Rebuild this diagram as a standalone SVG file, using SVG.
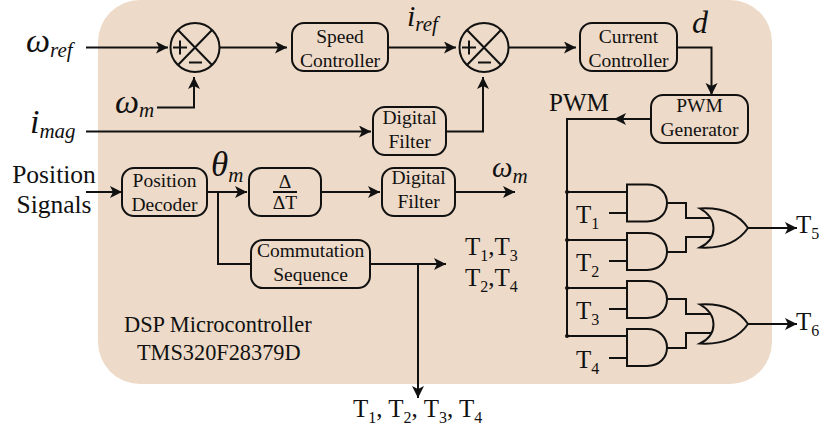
<svg xmlns="http://www.w3.org/2000/svg" width="824" height="431" viewBox="0 0 824 431">
<style>
text{font-family:"Liberation Serif","Times New Roman",serif;fill:#111}
.l{fill:none;stroke:#111;stroke-width:2}
.b{fill:none;stroke:#111;stroke-width:2}
.t{font-size:19.500px;text-anchor:middle}
.g{font-size:25px}
.i{font-style:italic}
.s{font-size:16px}
</style>
<defs>
<marker id="a" markerUnits="userSpaceOnUse" markerWidth="14" markerHeight="14" refX="12" refY="6" orient="auto"><path d="M0 0L12 6L0 12L3 6Z" fill="#111"/></marker>
<g id="sum"><circle r="24.500" class="b"/><path class="b" d="M-17 -17.500L17 17.500M-17 17.500L17 -17.500M-22 0H-8M-15 -7V7M-6 15H7"/></g>
<path id="and" class="b" d="M0 0H20C33 0 40 9 40 18.500C40 28 33 37 20 37H0Z"/>
<path id="or" class="b" d="M0 0C18 -1 36 2 48 19.500C36 37 18 40 0 39C18 30 18 10 0 0Z"/>
</defs>
<rect x="98" y="0" width="674" height="384" rx="42" fill="#eddac8"/>
<g id="connectors">
<path class="l" marker-end="url(#a)" d="M86 47.500H168"/>
<path class="l" marker-end="url(#a)" d="M220 47.500H287"/>
<path class="l" marker-end="url(#a)" d="M157 107.500H194V77"/>
<path class="l" marker-end="url(#a)" d="M388 47.500H456"/>
<path class="l" marker-end="url(#a)" d="M86 131.500H371"/>
<path class="l" marker-end="url(#a)" d="M446 131.500H483V77"/>
<path class="l" marker-end="url(#a)" d="M508 47.500H576"/>
<path class="l" marker-end="url(#a)" d="M677 47.500H711.500V95"/>
<path class="l" marker-end="url(#a)" d="M651 119H614"/>
<path class="l" d="M614 119H567V336"/>
<path class="l" marker-end="url(#a)" d="M86 192H122"/>
<path class="l" marker-end="url(#a)" d="M207 192H247"/>
<path class="l" marker-end="url(#a)" d="M321 192H380"/>
<path class="l" marker-end="url(#a)" d="M455 192H515"/>
<path class="l" d="M218 192V264H251"/>
<path class="l" marker-end="url(#a)" d="M370 264H446"/>
<path class="l" marker-end="url(#a)" d="M418 264V398"/>
<path class="l" d="M567 192H627M567 240H627M567 288H627M567 336H627M609 213H627M609 261H627M609 309H627M609 358H627"/>
<path class="l" d="M667 203H686V218H711M667 252H686V237H711M667 299H686V314H711M667 348H686V333H711"/>
<path class="l" marker-end="url(#a)" d="M748 228H797"/>
<path class="l" marker-end="url(#a)" d="M748 324H797"/>
<circle cx="567" cy="192" r="2" fill="#111"/><circle cx="567" cy="240" r="2" fill="#111"/><circle cx="567" cy="288" r="2" fill="#111"/><circle cx="567" cy="336" r="2" fill="#111"/>
</g>
<g id="sum1"><use href="#sum" x="195" y="47.500"/></g>
<g id="sum2"><use href="#sum" x="484" y="47.500"/></g>
<g id="speed"><rect class="b" x="292" y="23" width="96" height="48" rx="12"/><text class="t" x="340" y="43">Speed</text><text class="t" x="340" y="67">Controller</text></g>
<g id="current"><rect class="b" x="580" y="23" width="97" height="48" rx="12"/><text class="t" x="628.500" y="43">Current</text><text class="t" x="628.500" y="67">Controller</text></g>
<g id="pwmgen"><rect class="b" x="651" y="95" width="97" height="48" rx="12"/><text class="t" x="699.500" y="112">PWM</text><text class="t" x="699.500" y="136">Generator</text></g>
<g id="filter1"><rect class="b" x="373" y="107" width="73" height="48" rx="12"/><text class="t" x="409.500" y="124">Digital</text><text class="t" x="409.500" y="148">Filter</text></g>
<g id="decoder"><rect class="b" x="122" y="168" width="85" height="48" rx="12"/><text class="t" x="164.500" y="187">Position</text><text class="t" x="164.500" y="211">Decoder</text></g>
<g id="delta"><rect class="b" x="249" y="168" width="72" height="48" rx="12"/><text class="t" x="285" y="188">Δ</text><path class="l" d="M273 192H297"/><text class="t" x="285" y="209">ΔT</text></g>
<g id="filter2"><rect class="b" x="382" y="168" width="73" height="48" rx="12"/><text class="t" x="418.500" y="184">Digital</text><text class="t" x="418.500" y="208">Filter</text></g>
<g id="commutation"><rect class="b" x="251" y="240" width="119" height="48" rx="12"/><text class="t" x="310.500" y="257">Commutation</text><text class="t" x="310.500" y="281">Sequence</text></g>
<g id="gates">
<use href="#and" x="627" y="184.500"/><use href="#and" x="627" y="233"/><use href="#and" x="627" y="281"/><use href="#and" x="627" y="329"/>
<use href="#or" x="700" y="208.500"/><use href="#or" x="700" y="304.500"/>
</g>
<g id="labels">
<text class="i" x="26" y="52" font-size="34">ω<tspan font-size="21" dy="5">ref</tspan></text>
<text class="i" x="115" y="113" font-size="34">ω<tspan font-size="21" dy="4">m</tspan></text>
<text class="i" x="30" y="133" font-size="34">i<tspan font-size="21" dy="5">mag</tspan></text>
<text class="i" x="407" y="26" font-size="30">i<tspan font-size="21" dy="5">ref</tspan></text>
<text class="i" x="692" y="33" font-size="32">d</text>
<text class="i" x="211" y="176" font-size="35">θ<tspan font-size="21" dy="6">m</tspan></text>
<text class="i" x="492" y="177" font-size="29">ω<tspan font-size="21" dy="6">m</tspan></text>
<text x="549" y="111" font-size="25">PWM</text>
<text x="54" y="183" font-size="25.500" text-anchor="middle">Position</text>
<text x="54" y="213" font-size="25.500" text-anchor="middle">Signals</text>
<text class="g" x="465" y="255">T<tspan class="s" dy="6">1</tspan><tspan dy="-6">,T</tspan><tspan class="s" dy="6">3</tspan></text>
<text class="g" x="465" y="286">T<tspan class="s" dy="6">2</tspan><tspan dy="-6">,T</tspan><tspan class="s" dy="6">4</tspan></text>
<text x="124" y="332" font-size="22.400">DSP Microcontroller</text>
<text x="137" y="360" font-size="22.300">TMS320F28379D</text>
<text class="g" x="353" y="417">T<tspan class="s" dy="6">1</tspan><tspan dy="-6">, T</tspan><tspan class="s" dy="6">2</tspan><tspan dy="-6">, T</tspan><tspan class="s" dy="6">3</tspan><tspan dy="-6">, T</tspan><tspan class="s" dy="6">4</tspan></text>
<text class="g" x="576" y="223">T<tspan class="s" dy="6">1</tspan></text>
<text class="g" x="576" y="271">T<tspan class="s" dy="6">2</tspan></text>
<text class="g" x="576" y="319">T<tspan class="s" dy="6">3</tspan></text>
<text class="g" x="576" y="368">T<tspan class="s" dy="6">4</tspan></text>
<text class="g" x="796" y="233">T<tspan class="s" dy="6">5</tspan></text>
<text class="g" x="796" y="330">T<tspan class="s" dy="6">6</tspan></text>
</g>
</svg>
